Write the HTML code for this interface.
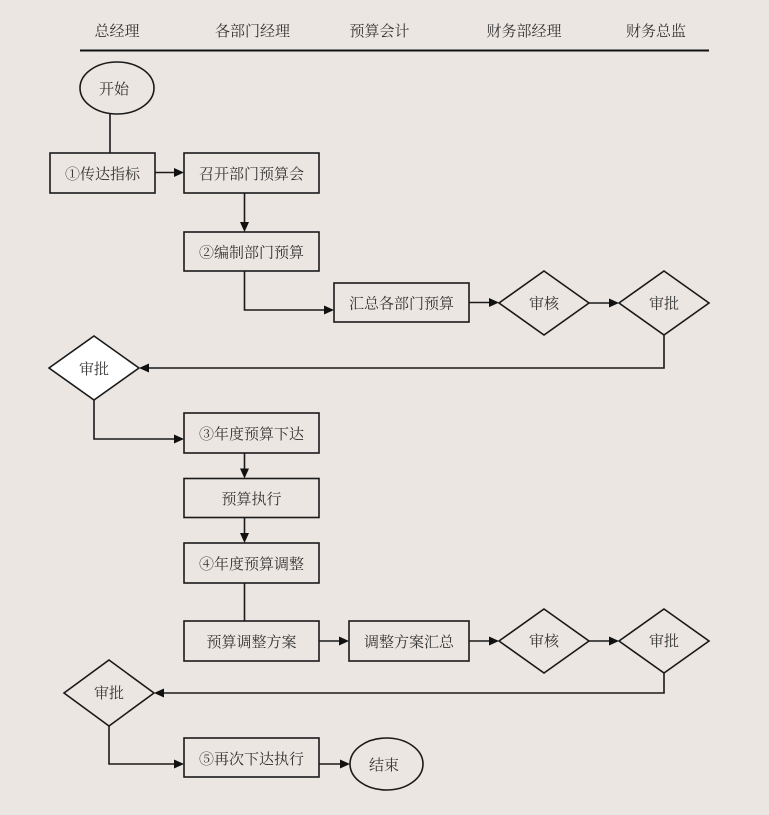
<!DOCTYPE html>
<html>
<head>
<meta charset="utf-8">
<style>
  html,body{margin:0;padding:0;background:#ece6e2;}
  svg{display:block;}
  text{font-family:"Liberation Serif","Noto Serif CJK SC","Noto Sans CJK SC",serif;font-size:15px;fill:#333;text-anchor:middle;dominant-baseline:central;}
</style>
</head>
<body>
<svg width="769" height="815" viewBox="0 0 769 815" xmlns="http://www.w3.org/2000/svg">
  <rect x="0" y="0" width="769" height="815" fill="#ece6e2"/>

  <!-- header -->
  <g transform="translate(0,2)">
  <text x="117" y="30">总经理</text>
  <text x="252.5" y="30">各部门经理</text>
  <text x="379.5" y="30">预算会计</text>
  <text x="524" y="30">财务部经理</text>
  <text x="656" y="30">财务总监</text>
  </g>
  <line x1="80" y1="50.5" x2="709" y2="50.5" stroke="#111" stroke-width="2"/>

  <g fill="none" stroke="#1a1a1a" stroke-width="1.6">
    <!-- start -->
    <ellipse cx="117" cy="88" rx="37" ry="26"/>
    <line x1="110" y1="114" x2="110" y2="153"/>
    <rect x="50" y="153" width="105" height="40"/>
    <line x1="155" y1="172.5" x2="176" y2="172.5"/>
    <rect x="184" y="153" width="135" height="40"/>
    <line x1="244.5" y1="193" x2="244.5" y2="224"/>
    <rect x="184" y="232" width="135" height="39"/>
    <polyline points="244.5,271 244.5,310 326,310"/>
    <rect x="334" y="283" width="135" height="39"/>
    <line x1="469" y1="302.5" x2="491" y2="302.5"/>
    <polygon points="544,271 589,303 544,335 499,303"/>
    <line x1="589" y1="303" x2="611" y2="303"/>
    <polygon points="664,271 709,303 664,335 619,303"/>
    <polyline points="664,335 664,368 147,368"/>
    <polygon points="94,336 139,368 94,400 49,368" fill="#ffffff"/>
    <polyline points="94,400 94,439 176,439"/>
    <rect x="184" y="413" width="135" height="40"/>
    <line x1="244.5" y1="453" x2="244.5" y2="470"/>
    <rect x="184" y="478.5" width="135" height="39"/>
    <line x1="244.5" y1="517.5" x2="244.5" y2="535"/>
    <rect x="184" y="543" width="135" height="40"/>
    <line x1="244.5" y1="583" x2="244.5" y2="621"/>
    <rect x="184" y="621" width="135" height="40"/>
    <line x1="319" y1="641" x2="341" y2="641"/>
    <rect x="349" y="621" width="120" height="40"/>
    <line x1="469" y1="641" x2="491" y2="641"/>
    <polygon points="544,609 589,641 544,673 499,641"/>
    <line x1="589" y1="641" x2="611" y2="641"/>
    <polygon points="664,609 709,641 664,673 619,641"/>
    <polyline points="664,673 664,693 162,693"/>
    <polygon points="109,660 154,693 109,726 64,693"/>
    <polyline points="109,726 109,764 176,764"/>
    <rect x="184" y="738" width="135" height="39"/>
    <line x1="319" y1="764" x2="342" y2="764"/>
    <ellipse cx="386.5" cy="764" rx="36.5" ry="26"/>
  </g>

  <!-- arrowheads -->
  <g fill="#111">
    <polygon points="184,172.5 174,168 174,177"/>
    <polygon points="244.5,232 240,222 249,222"/>
    <polygon points="334,310 324,305.5 324,314.5"/>
    <polygon points="499,302.5 489,298 489,307"/>
    <polygon points="619,303 609,298.5 609,307.5"/>
    <polygon points="139,368 149,363.5 149,372.5"/>
    <polygon points="184,439 174,434.5 174,443.5"/>
    <polygon points="244.5,478.5 240,468.5 249,468.5"/>
    <polygon points="244.5,543 240,533 249,533"/>
    <polygon points="349,641 339,636.5 339,645.5"/>
    <polygon points="499,641 489,636.5 489,645.5"/>
    <polygon points="619,641 609,636.5 609,645.5"/>
    <polygon points="154,693 164,688.5 164,697.5"/>
    <polygon points="184,764 174,759.5 174,768.5"/>
    <polygon points="350,764 340,759.5 340,768.5"/>
  </g>

  <!-- labels -->
  <g transform="translate(0,2)">
  <text x="114" y="88">开始</text>
  <text x="102.5" y="173">①传达指标</text>
  <text x="251.5" y="173">召开部门预算会</text>
  <text x="251.5" y="251.5">②编制部门预算</text>
  <text x="401.5" y="302.5">汇总各部门预算</text>
  <text x="544" y="302.5">审核</text>
  <text x="664" y="302.5">审批</text>
  <text x="94" y="368">审批</text>
  <text x="251.5" y="433">③年度预算下达</text>
  <text x="251.5" y="498">预算执行</text>
  <text x="251.5" y="563">④年度预算调整</text>
  <text x="251.5" y="641">预算调整方案</text>
  <text x="409" y="641">调整方案汇总</text>
  <text x="544" y="640">审核</text>
  <text x="664" y="640">审批</text>
  <text x="109" y="692">审批</text>
  <text x="251.5" y="758">⑤再次下达执行</text>
  <text x="384" y="764">结束</text>
  </g>
</svg>
</body>
</html>
